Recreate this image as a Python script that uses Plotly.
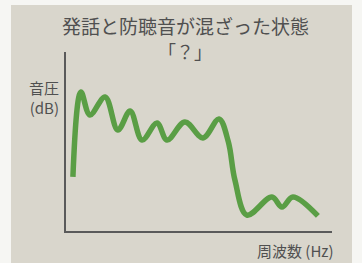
import plotly.graph_objects as go

# Data (frequency index 0-100, sound pressure 0-100)
freq = [2.6, 5.6, 9.0, 14.7, 19.5, 24.1, 28.6, 34.2, 38.0, 44.7, 51.5, 57.5, 61.0, 63.5, 68.0, 77.4, 81.2, 85.3, 94.7]
level = [30.2, 77.7, 64.8, 74.9, 56.4, 67.0, 50.8, 60.3, 50.8, 60.9, 52.0, 62.6, 50.0, 28.5, 8.9, 19.0, 13.4, 19.0, 8.4]

title_line1 = "発話と防聴音が混ざった状態"
title_line2 = "「？」"
y_label = "音圧<br>(dB)"
x_label = "周波数 (Hz)"

W, H = 362, 263
L, R, T, B = 66, 30, 52, 32
PW, PH = W - L - R, H - T - B

def px(x):
    return (x - L) / PW

def py(y):
    return (H - B - y) / PH

FONT = "Noto Sans CJK JP"
TXT = "#505050"
GREEN = "#5a9e45"
BEIGE = "#d9d6cc"

fig = go.Figure()
fig.add_trace(go.Scatter(
    x=freq, y=level, mode="lines",
    line=dict(color=GREEN, width=5.5, shape="spline", smoothing=1.0),
    hoverinfo="skip", showlegend=False,
))

fig.update_layout(
    width=W, height=H,
    margin=dict(l=L, r=R, t=T, b=B, pad=0),
    paper_bgcolor="#f6f6f3",
    plot_bgcolor="rgba(0,0,0,0)",
    xaxis=dict(range=[0, 100], showgrid=False, zeroline=False, showticklabels=False,
               ticks="", showline=True, linecolor="#5a5a5a", linewidth=1.5, fixedrange=True),
    yaxis=dict(range=[0, 100], showgrid=False, zeroline=False, showticklabels=False,
               ticks="", showline=True, linecolor="#5a5a5a", linewidth=1.5, fixedrange=True),
    shapes=[dict(type="rect", xref="paper", yref="paper",
                 x0=px(11), x1=px(352), y0=py(263), y1=py(5),
                 fillcolor=BEIGE, line=dict(width=0), layer="below")],
    annotations=[
        dict(text=title_line1, x=px(185), y=py(25), xref="paper", yref="paper",
             xanchor="center", yanchor="middle", showarrow=False,
             font=dict(family=FONT, size=19, color=TXT)),
        dict(text=title_line2, x=px(185), y=py(51), xref="paper", yref="paper",
             xanchor="center", yanchor="middle", showarrow=False,
             font=dict(family=FONT, size=18, color=TXT)),
        dict(text=y_label, x=px(61), y=py(97), xref="paper", yref="paper",
             xanchor="right", yanchor="middle", align="right", showarrow=False,
             font=dict(family=FONT, size=15, color=TXT)),
        dict(text=x_label, x=px(336), y=py(250), xref="paper", yref="paper",
             xanchor="right", yanchor="middle", showarrow=False,
             font=dict(family=FONT, size=15, color=TXT)),
    ],
)

fig.write_html(
    "out.html",
    config={"displayModeBar": False},
    post_script="document.body.style.margin='0';document.body.style.padding='0';document.body.style.overflow='hidden';",
)
